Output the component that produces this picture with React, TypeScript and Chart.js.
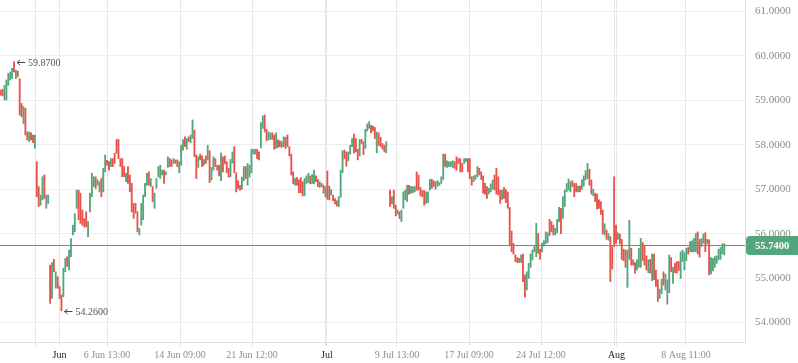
import React, { useEffect, useRef } from 'react';
import { Chart, registerables } from 'chart.js';
Chart.register(...registerables);

// Candle highs / lows (null = no bar)
const highs: (number | null)[] = [
  59.23,59.25,59.34,59.46,59.61,59.64,59.72,59.87,59.68,59.66,
  59.49,58.93,58.86,58.82,58.29,58.29,58.27,58.22,58.22,57.62,
  57.06,56.87,57.28,57.32,56.87,56.87,55.29,55.35,55.42,55.14,
  55.03,54.81,54.62,55.22,55.44,55.48,55.63,55.89,56.19,56.45,
  56.98,56.98,56.91,56.53,56.34,56.49,56.27,56.91,57.36,57.28,
  57.28,57.21,57.17,57.24,57.47,57.77,57.65,57.62,57.69,57.69,
  57.81,58.12,58.12,57.69,57.69,57.51,57.36,57.51,57.32,57.13,
  56.68,56.68,56.49,56.12,56.68,56.87,57.13,57.36,57.39,57.24,
  57.06,56.91,57.24,57.51,57.54,57.43,57.43,57.39,57.73,57.69,
  57.66,57.69,57.66,57.66,57.62,57.99,58.12,58.18,
  58.14,58.18,58.22,58.56,58.33,57.77,57.73,57.79,57.75,57.67,
  57.75,57.99,57.87,57.49,57.73,57.69,57.54,57.54,57.82,57.73,
  57.75,57.62,57.47,57.67,57.84,57.96,57.37,57.19,57.09,57.27,
  57.51,57.51,57.58,57.54,57.90,57.90,57.90,57.90,57.84,58.50,
  58.65,58.67,58.35,58.29,58.27,58.27,58.22,58.27,58.11,58.09,
  58.07,58.18,58.17,58.22,57.96,57.79,57.39,57.24,57.26,57.21,
  57.26,57.17,57.24,57.30,57.36,57.30,57.33,57.43,57.30,57.22,
  57.17,57.13,57.09,57.06,57.41,57.07,56.99,56.87,56.79,56.74,
  56.83,57.43,57.87,57.88,57.84,57.84,57.99,58.14,58.24,58.14,
  57.90,58.12,58.12,58.07,58.35,58.47,58.52,58.44,58.42,58.39,
  58.29,58.27,58.17,58.03,57.99,58.07,null,
  56.98,56.83,56.98,56.64,56.53,56.49,56.53,56.94,56.98,57.09,
  57.09,57.06,57.06,57.06,57.39,57.32,57.04,56.97,56.97,56.94,
  56.94,57.22,57.22,57.19,57.17,57.19,57.15,57.28,57.79,57.79,
  57.64,57.62,57.62,57.64,57.62,57.73,57.69,57.69,57.58,57.69,
  57.69,57.69,57.69,57.28,57.30,57.32,57.51,57.47,57.39,57.30,
  57.13,57.06,57.02,57.12,57.21,57.32,57.47,57.28,56.98,56.98,
  57.04,56.99,56.94,56.59,56.06,55.78,55.52,55.46,55.44,55.52,
  55.54,55.07,55.14,55.33,55.54,55.63,55.71,56.23,56.00,55.65,
  55.78,55.84,56.04,56.02,56.32,56.27,56.19,
  56.12,56.32,56.59,56.57,56.83,56.98,57.13,57.23,57.17,57.19,
  57.13,57.13,57.07,57.07,57.21,57.30,57.42,57.58,57.45,57.21,
  57.00,56.91,56.89,56.76,56.72,56.53,56.22,56.08,56.00,55.93,
  55.71,57.28,56.19,56.02,55.99,55.87,55.65,55.63,55.63,56.30,
  55.67,55.41,55.35,55.41,55.67,55.89,55.80,55.74,55.50,55.41,
  55.42,55.54,55.54,55.18,54.96,54.75,54.97,55.14,55.09,54.96,
  55.52,55.46,55.24,55.33,55.37,55.37,55.59,55.63,55.57,55.67,
  55.69,55.82,55.84,55.89,56.00,56.04,55.87,55.89,55.99,56.02,
  55.87,55.86,55.46,55.44,55.48,55.50,55.65,55.69,55.77,55.77,
];

const lows: (number | null)[] = [
  59.12,59.10,59.01,59.01,59.34,59.46,59.49,59.64,59.49,59.53,
  58.67,58.63,58.48,58.22,58.11,58.07,58.11,58.05,57.92,56.83,
  56.61,56.64,56.76,56.79,56.57,56.68,54.43,54.54,55.14,54.77,
  54.77,54.54,54.26,54.58,55.14,55.26,55.18,55.48,55.97,56.04,
  56.57,56.31,56.23,56.19,56.15,56.15,55.93,56.49,56.83,57.06,
  57.02,57.09,56.94,56.83,56.94,57.39,57.54,57.43,57.51,57.51,
  57.58,57.81,57.69,57.51,57.28,57.28,57.17,57.13,56.94,56.49,
  56.34,56.46,56.04,55.97,56.19,56.31,56.83,57.09,57.09,57.06,
  56.72,56.57,57.02,57.28,57.24,57.32,57.13,57.32,57.49,57.51,
  57.51,57.58,57.58,57.51,57.37,57.54,57.88,57.96,
  57.90,58.07,58.05,58.14,57.73,57.24,57.49,57.66,57.51,57.54,
  57.58,57.66,57.15,57.21,57.43,57.51,57.43,57.30,57.19,57.39,
  57.57,57.37,57.27,57.28,57.59,57.37,56.94,57.02,56.98,57.00,
  57.19,57.24,57.09,57.27,57.37,57.79,57.79,57.69,57.66,57.93,
  58.37,58.29,58.09,58.11,58.12,58.12,57.90,57.92,57.94,57.96,
  57.94,57.96,57.92,57.96,57.75,57.32,57.12,57.09,57.09,56.92,
  56.92,56.85,56.85,57.13,57.15,57.12,57.13,57.12,57.17,57.06,
  57.04,57.06,56.91,56.83,56.77,56.76,56.87,56.74,56.67,56.62,
  56.61,56.82,57.37,57.69,57.52,57.64,57.79,57.96,57.81,57.84,
  57.66,57.75,58.03,57.78,57.92,58.31,58.37,58.27,58.31,58.14,
  57.82,57.99,57.96,57.90,57.84,57.82,null,
  56.61,56.67,56.57,56.40,56.44,56.34,56.27,56.57,56.76,56.72,
  56.89,56.91,56.92,56.94,56.98,56.98,56.85,56.83,56.64,56.68,
  56.70,56.98,57.02,57.06,57.00,57.07,57.09,57.13,57.22,57.51,
  57.49,57.51,57.51,57.49,57.47,57.43,57.58,57.39,57.39,57.58,
  57.62,57.39,57.24,57.09,57.17,57.22,57.28,57.32,57.22,56.91,
  56.89,56.79,56.89,56.94,57.00,56.98,56.89,56.87,56.68,56.77,
  56.79,56.70,56.57,55.72,55.59,55.54,55.37,55.35,55.35,55.35,
  54.92,54.57,54.73,54.99,55.24,55.41,55.59,55.48,55.56,55.42,
  55.59,55.72,55.77,55.80,55.96,56.04,55.97,
  55.97,56.02,56.27,56.00,56.34,56.61,56.94,56.98,56.94,57.06,
  56.83,56.94,56.94,56.94,57.00,57.07,57.21,57.24,57.09,56.89,
  56.85,56.72,56.55,56.57,56.43,55.99,55.97,55.87,55.85,54.92,
  55.20,55.71,55.78,55.87,55.77,55.42,55.39,55.24,54.79,55.42,
  55.29,55.29,55.11,55.18,55.24,55.24,55.39,55.29,55.18,55.12,
  55.11,54.94,54.96,54.81,54.47,54.54,54.65,54.84,54.73,54.41,
  54.67,55.14,54.88,55.12,55.11,55.17,54.99,55.37,55.18,55.39,
  55.54,55.59,55.59,55.59,55.59,55.54,55.47,55.71,55.78,55.59,
  55.77,55.07,55.09,55.16,55.24,55.33,55.41,55.42,55.54,55.52,
];

// u = close above open, d = close below open, n = unchanged, - = no bar
const directions =
  'dduuuuudud' + 'ddudduddud' + 'duudnududu' + 'ddduuduuuu' + 'uddddduuuu' +
  'duuduuddud' + 'dddddduddd' + 'ddduuuuudu' + 'duuuuuduud' + 'dudduuud' +
  'uduudduddu' + 'duduudddud' + 'ddduuddddu' + 'uduuuuuddu' + 'udduuddudd' +
  'uudddddudd' + 'dduuuduudd' + 'uddudduddd' + 'uuudduuudd' + 'dudduuuddd' +
  'uddddu' + '-' + 'dudduduuuu' + 'duuudddddu' + 'uudduuuuud' + 'uuuudddddu' +
  'uddduuuddd' + 'dduuuddddu' + 'dddddddddu' + 'dduuuuuudd' + 'uuuuddd' +
  'uuuduuuuud' + 'dduduuuudd' + 'udddddudud' + 'dddudddduu' + 'ddduuudddu' +
  'duddduudun' + 'ududdduuuu' + 'duuuudduud' + 'uduuuuuuuu';

const lastPrice = 55.74;

// x-axis ticks: bar positions and their labels
const tickPositions = [18.06, 30.96, 55.97, 94.41, 132.32, 170.91, 171.76, 208.66, 246.58, 284.49, 323.35, 324.24, 360.83];
const tickLabels = ['', 'Jun', '6 Jun 13:00', '14 Jun 09:00', '21 Jun 12:00', '', 'Jul', '9 Jul 13:00', '17 Jul 09:00', '24 Jul 12:00', '', 'Aug', '8 Aug 11:00'];
const monthLabels = ['Jun', 'Jul', 'Aug'];
const yTicks = [54, 55, 56, 57, 58, 59, 60, 61];

const UP = '#53a67c';
const DOWN = '#e5534b';
const FLAT = '#8a8a8a';
const LINE = '#4f9f77';
const SERIF = '"Liberation Serif", "Times New Roman", serif';

export default function App() {
  const ref = useRef<HTMLCanvasElement>(null);

  useEffect(() => {
    const points: any[] = [];
    const colors: string[] = [];
    let maxI = 0;
    let minI = 0;
    highs.forEach((h, i) => {
      const l = lows[i];
      if (h == null || l == null) return;
      points.push({ x: i, y: [l, h] });
      const d = directions[i];
      colors.push(d === 'u' ? UP : d === 'd' ? DOWN : FLAT);
      if (h > (highs[maxI] as number)) maxI = i;
      if (l < (lows[minI] as number)) minI = i;
    });

    const overlay = {
      id: 'overlay',
      afterDraw(chart: any) {
        const { ctx, chartArea, scales } = chart;
        const x = scales.x;
        const y = scales.y;
        ctx.save();
        const py = Math.round(y.getPixelForValue(lastPrice)) + 0.5;
        ctx.strokeStyle = LINE;
        ctx.lineWidth = 1.2;
        ctx.beginPath();
        ctx.moveTo(chartArea.left, py);
        ctx.lineTo(chartArea.right, py);
        ctx.stroke();

        // price tag
        const tx = chartArea.right + 1;
        const tr = chart.width;
        const th = 19;
        const top = py - th / 2;
        const r = 4;
        ctx.fillStyle = UP;
        ctx.beginPath();
        ctx.moveTo(tx + r, top);
        ctx.lineTo(tr, top);
        ctx.lineTo(tr, top + th);
        ctx.lineTo(tx + r, top + th);
        ctx.quadraticCurveTo(tx, top + th, tx, top + th - r);
        ctx.lineTo(tx, top + r);
        ctx.quadraticCurveTo(tx, top, tx + r, top);
        ctx.closePath();
        ctx.fill();
        ctx.fillStyle = '#ffffff';
        ctx.font = 'bold 10.5px ' + SERIF;
        ctx.textBaseline = 'middle';
        ctx.textAlign = 'left';
        ctx.fillText(lastPrice.toFixed(4), chartArea.right + 10, py + 0.5);

        const note = (i: number, v: number) => {
          const bx = x.getPixelForValue(i);
          const by = Math.round(y.getPixelForValue(v)) + 0.5;
          ctx.strokeStyle = '#444';
          ctx.lineWidth = 1;
          ctx.beginPath();
          ctx.moveTo(bx + 3, by);
          ctx.lineTo(bx + 11, by);
          ctx.moveTo(bx + 3, by);
          ctx.lineTo(bx + 6, by - 2.5);
          ctx.moveTo(bx + 3, by);
          ctx.lineTo(bx + 6, by + 2.5);
          ctx.stroke();
          ctx.fillStyle = '#555';
          ctx.font = '10px ' + SERIF;
          ctx.textBaseline = 'middle';
          ctx.textAlign = 'left';
          ctx.fillText(v.toFixed(4), bx + 14, by + 0.5);
        };
        note(maxI, highs[maxI] as number);
        note(minI, lows[minI] as number);
        ctx.restore();
      },
    };

    const chart = new Chart(ref.current as HTMLCanvasElement, {
      type: 'bar',
      data: {
        datasets: [
          {
            data: points,
            backgroundColor: colors,
            borderWidth: 0,
            barThickness: 1.2,
            grouped: false,
          } as any,
        ],
      },
      options: {
        animation: false,
        responsive: false,
        devicePixelRatio: 1,
        layout: { padding: 0 },
        plugins: { legend: { display: false }, tooltip: { enabled: false } },
        scales: {
          x: {
            type: 'linear',
            min: -0.37,
            max: 391.9,
            offset: false,
            afterBuildTicks: (s: any) => {
              s.ticks = tickPositions.map((v) => ({ value: v }));
            },
            afterFit: (s: any) => {
              s.height = 21;
              s.paddingLeft = 0;
              s.paddingRight = 0;
            },
            ticks: {
              autoSkip: false,
              maxRotation: 0,
              padding: 3,
              font: { family: SERIF, size: 10 },
              color: (c: any) => (monthLabels.includes(c.tick && c.tick.label) ? '#1a1a1a' : '#8c8c8c'),
              callback: (_v: any, i: number) => tickLabels[i] ?? '',
            },
            grid: { color: '#e4e7ec', tickLength: 4, offset: false },
            border: { color: '#dcdfe4' },
          } as any,
          y: {
            type: 'linear',
            position: 'right',
            min: 53.559,
            max: 61.261,
            afterBuildTicks: (s: any) => {
              s.ticks = yTicks.map((v) => ({ value: v }));
            },
            afterFit: (s: any) => {
              s.width = 53;
              s.paddingTop = 0;
              s.paddingBottom = 0;
            },
            ticks: {
              padding: 10,
              font: { family: SERIF, size: 11 },
              color: '#8c8c8c',
              callback: (v: any) => Number(v).toFixed(4),
            },
            grid: { color: '#eceef2', drawTicks: false },
            border: { color: '#d8dbe0' },
          } as any,
        },
      },
      plugins: [overlay],
    });
    return () => chart.destroy();
  }, []);

  return (
    <div style={{ position: 'fixed', left: 0, top: 0, width: 798, height: 363, background: '#fff' }}>
      <canvas ref={ref} width={798} height={363} style={{ width: 798, height: 363, display: 'block' }} />
    </div>
  );
}
